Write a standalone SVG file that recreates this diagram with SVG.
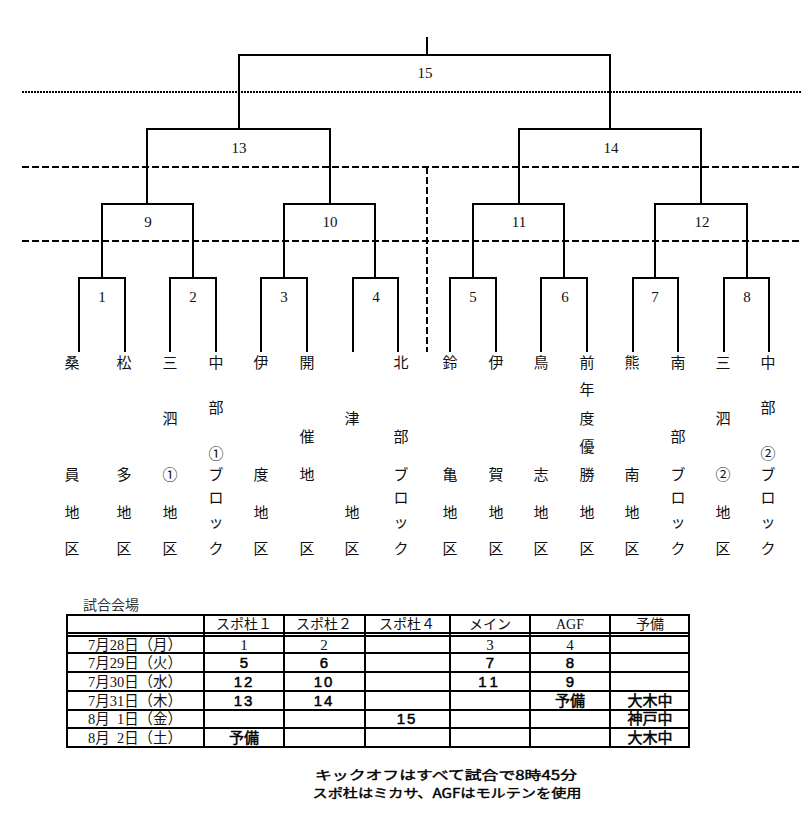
<svg xmlns="http://www.w3.org/2000/svg" width="811" height="830" viewBox="0 0 811 830">
<style>
.br{fill:none;stroke:#000;stroke-width:2}
.dot{fill:none;stroke:#000;stroke-width:2;stroke-dasharray:2 1}
.dash{fill:none;stroke:#000;stroke-width:2;stroke-dasharray:7 3}
.num{font-family:"Liberation Serif","Noto Sans CJK JP",serif;font-size:15px;fill:#111;text-anchor:middle}
.tm{font-family:"Noto Sans CJK JP",sans-serif;font-size:15px;fill:#111;text-anchor:middle}
.tb{fill:none;stroke:#000;stroke-width:2}
.hd{font-family:"Liberation Serif","Noto Sans CJK JP",serif;font-size:14px;fill:#111;text-anchor:middle}
.dt{font-family:"Liberation Serif","Noto Sans CJK JP",serif;font-size:15px;fill:#111;text-anchor:middle}
.gb{font-family:"Liberation Sans","Noto Sans CJK JP",sans-serif;font-size:15px;fill:#000;stroke:#000;stroke-width:0.5;text-anchor:middle}
.ft{font-family:"Noto Sans CJK JP",sans-serif;font-size:12.5px;fill:#000;stroke:#000;stroke-width:0.4;text-anchor:middle}
</style>

<g id="guides">
<path class="dot" d="M22,92 H802"/>
<path class="dash" d="M22,167 H802"/>
<path class="dash" d="M22,241 H802"/>
<path class="dash" d="M427,167 V352"/>
</g>

<g id="connectors">
<path class="br" d="M427,37 V55"/>
<path class="br" d="M239,129 V55 H610 V129"/>
<path class="br" d="M147,204 V129 H330 V204"/>
<path class="br" d="M519,204 V129 H701 V204"/>
<path class="br" d="M102,278 V204 H193 V278"/>
<path class="br" d="M284,278 V204 H375 V278"/>
<path class="br" d="M473,278 V204 H564 V278"/>
<path class="br" d="M655,278 V204 H747 V278"/>
<path class="br" d="M79,352 V278 H125 V352"/>
<path class="br" d="M170,352 V278 H216 V352"/>
<path class="br" d="M261,352 V278 H307 V352"/>
<path class="br" d="M353,352 V278 H398 V352"/>
<path class="br" d="M450,352 V278 H496 V352"/>
<path class="br" d="M541,352 V278 H587 V352"/>
<path class="br" d="M633,352 V278 H678 V352"/>
<path class="br" d="M724,352 V278 H769 V352"/>
</g>

<g id="m15"><text class="num" x="425" y="78">15</text></g>
<g id="m13"><text class="num" x="239" y="153">13</text></g>
<g id="m14"><text class="num" x="611" y="153">14</text></g>
<g id="m9"><text class="num" x="148" y="227">9</text></g>
<g id="m10"><text class="num" x="330" y="227">10</text></g>
<g id="m11"><text class="num" x="519" y="227">11</text></g>
<g id="m12"><text class="num" x="702" y="227">12</text></g>
<g id="m1"><text class="num" x="102" y="302">1</text></g>
<g id="m2"><text class="num" x="193" y="302">2</text></g>
<g id="m3"><text class="num" x="284" y="302">3</text></g>
<g id="m4"><text class="num" x="376" y="302">4</text></g>
<g id="m5"><text class="num" x="473" y="302">5</text></g>
<g id="m6"><text class="num" x="565" y="302">6</text></g>
<g id="m7"><text class="num" x="655" y="302">7</text></g>
<g id="m8"><text class="num" x="747" y="302">8</text></g>

<g id="t1"><text class="tm"><tspan x="72" y="368">桑</tspan><tspan x="72" y="480">員</tspan><tspan x="72" y="518">地</tspan><tspan x="72" y="554">区</tspan></text></g>
<g id="t2"><text class="tm"><tspan x="124" y="368">松</tspan><tspan x="124" y="480">多</tspan><tspan x="124" y="518">地</tspan><tspan x="124" y="554">区</tspan></text></g>
<g id="t3"><text class="tm"><tspan x="170" y="368">三</tspan><tspan x="170" y="424">泗</tspan><tspan x="170" y="480">①</tspan><tspan x="170" y="518">地</tspan><tspan x="170" y="554">区</tspan></text></g>
<g id="t4"><text class="tm"><tspan x="216" y="368">中</tspan><tspan x="216" y="413">部</tspan><tspan x="216" y="459">①</tspan><tspan x="216" y="480">ブ</tspan><tspan x="216" y="503">ロ</tspan><tspan x="216" y="527">ッ</tspan><tspan x="216" y="554">ク</tspan></text></g>
<g id="t5"><text class="tm"><tspan x="261" y="368">伊</tspan><tspan x="261" y="480">度</tspan><tspan x="261" y="518">地</tspan><tspan x="261" y="554">区</tspan></text></g>
<g id="t6"><text class="tm"><tspan x="307" y="368">開</tspan><tspan x="307" y="442">催</tspan><tspan x="307" y="480">地</tspan><tspan x="307" y="554">区</tspan></text></g>
<g id="t7"><text class="tm"><tspan x="352" y="424">津</tspan><tspan x="352" y="518">地</tspan><tspan x="352" y="554">区</tspan></text></g>
<g id="t8"><text class="tm"><tspan x="401" y="368">北</tspan><tspan x="401" y="442">部</tspan><tspan x="401" y="480">ブ</tspan><tspan x="401" y="503">ロ</tspan><tspan x="401" y="527">ッ</tspan><tspan x="401" y="554">ク</tspan></text></g>
<g id="t9"><text class="tm"><tspan x="450" y="368">鈴</tspan><tspan x="450" y="480">亀</tspan><tspan x="450" y="518">地</tspan><tspan x="450" y="554">区</tspan></text></g>
<g id="t10"><text class="tm"><tspan x="496" y="368">伊</tspan><tspan x="496" y="480">賀</tspan><tspan x="496" y="518">地</tspan><tspan x="496" y="554">区</tspan></text></g>
<g id="t11"><text class="tm"><tspan x="541" y="368">鳥</tspan><tspan x="541" y="480">志</tspan><tspan x="541" y="518">地</tspan><tspan x="541" y="554">区</tspan></text></g>
<g id="t12"><text class="tm"><tspan x="587" y="368">前</tspan><tspan x="587" y="395">年</tspan><tspan x="587" y="424">度</tspan><tspan x="587" y="452">優</tspan><tspan x="587" y="480">勝</tspan><tspan x="587" y="518">地</tspan><tspan x="587" y="554">区</tspan></text></g>
<g id="t13"><text class="tm"><tspan x="632" y="368">熊</tspan><tspan x="632" y="480">南</tspan><tspan x="632" y="518">地</tspan><tspan x="632" y="554">区</tspan></text></g>
<g id="t14"><text class="tm"><tspan x="678" y="368">南</tspan><tspan x="678" y="442">部</tspan><tspan x="678" y="480">ブ</tspan><tspan x="678" y="503">ロ</tspan><tspan x="678" y="527">ッ</tspan><tspan x="678" y="554">ク</tspan></text></g>
<g id="t15"><text class="tm"><tspan x="723" y="368">三</tspan><tspan x="723" y="424">泗</tspan><tspan x="723" y="480">②</tspan><tspan x="723" y="518">地</tspan><tspan x="723" y="554">区</tspan></text></g>
<g id="t16"><text class="tm"><tspan x="768" y="368">中</tspan><tspan x="768" y="413">部</tspan><tspan x="768" y="459">②</tspan><tspan x="768" y="480">ブ</tspan><tspan x="768" y="503">ロ</tspan><tspan x="768" y="527">ッ</tspan><tspan x="768" y="554">ク</tspan></text></g>

<g id="schedule">
<text x="83" y="610" style="font-family:'Noto Sans CJK JP',sans-serif;font-size:14px;fill:#333">試合会場</text>
<rect class="tb" x="67" y="615" width="622" height="132"/>
<path class="tb" d="M67,633 H689 M67,636 H689 M67,653 H689 M67,672 H689 M67,691 H689 M67,710 H689 M67,728 H689"/>
<path class="tb" d="M204,615 V747 M284,615 V747 M365,615 V747 M450,615 V747 M530,615 V747 M610,615 V747"/>
<text class="hd" x="244" y="629">スポ杜１</text>
<text class="hd" x="324" y="629">スポ杜２</text>
<text class="hd" x="407" y="629">スポ杜４</text>
<text class="hd" x="490" y="629">メイン</text>
<text class="hd" x="570" y="629">AGF</text>
<text class="hd" x="650" y="629">予備</text>
<text class="dt" x="135" y="650" textLength="94" lengthAdjust="spacingAndGlyphs">7月28日（月）</text>
<text class="dt" x="135" y="668" textLength="94" lengthAdjust="spacingAndGlyphs">7月29日（火）</text>
<text class="dt" x="135" y="687" textLength="94" lengthAdjust="spacingAndGlyphs">7月30日（水）</text>
<text class="dt" x="135" y="706" textLength="94" lengthAdjust="spacingAndGlyphs">7月31日（木）</text>
<text class="dt" x="135" y="724" textLength="94" lengthAdjust="spacingAndGlyphs">8月&#160;&#160;1日（金）</text>
<text class="dt" x="135" y="743" textLength="94" lengthAdjust="spacingAndGlyphs">8月&#160;&#160;2日（土）</text>
<text class="dt" x="244" y="650">1</text>
<text class="dt" x="324" y="650">2</text>
<text class="dt" x="490" y="650">3</text>
<text class="dt" x="570" y="650">4</text>
<text class="gb" x="244" y="668">5</text>
<text class="gb" x="324" y="668">6</text>
<text class="gb" x="490" y="668">7</text>
<text class="gb" x="570" y="668">8</text>
<text class="gb" x="244" y="687" letter-spacing="2">12</text>
<text class="gb" x="324" y="687" letter-spacing="2">10</text>
<text class="gb" x="490" y="687" letter-spacing="4">11</text>
<text class="gb" x="570" y="687">9</text>
<text class="gb" x="244" y="706" letter-spacing="2">13</text>
<text class="gb" x="324" y="706" letter-spacing="2">14</text>
<text class="gb" x="570" y="706">予備</text>
<text class="gb" x="650" y="706">大木中</text>
<text class="gb" x="407" y="724" letter-spacing="2">15</text>
<text class="gb" x="650" y="724">神戸中</text>
<text class="gb" x="244" y="743">予備</text>
<text class="gb" x="650" y="743">大木中</text>
</g>

<g id="notes">
<text class="ft" x="446" y="780" textLength="262" lengthAdjust="spacingAndGlyphs">キックオフはすべて試合で8時45分</text>
<text class="ft" x="447" y="798" textLength="269" lengthAdjust="spacingAndGlyphs">スポ杜はミカサ、AGFはモルテンを使用</text>
</g>
</svg>
